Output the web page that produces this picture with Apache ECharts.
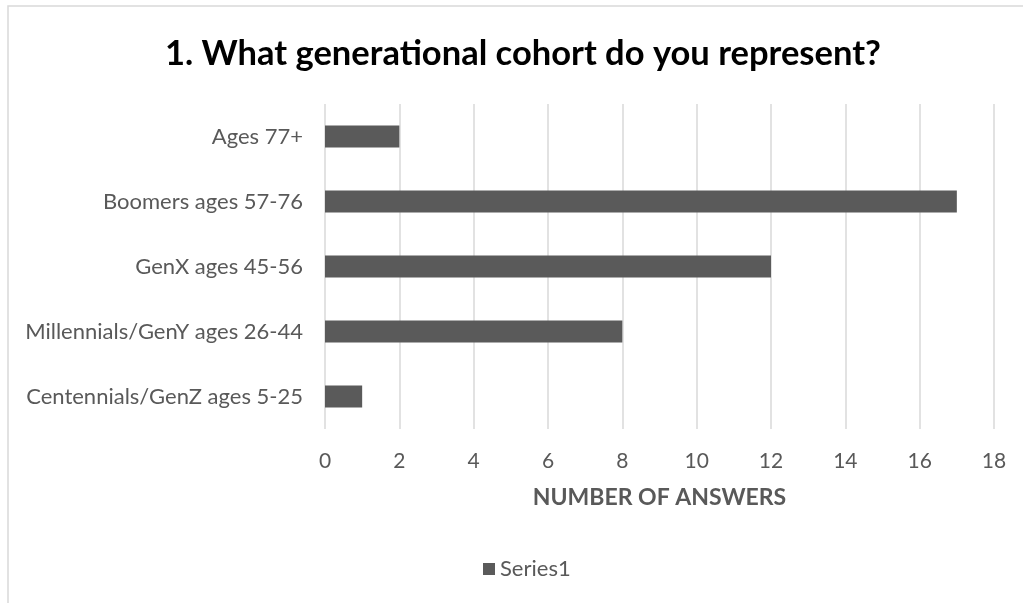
<!DOCTYPE html>
<html>
<head>
<meta charset="utf-8">
<script src="https://cdn.jsdelivr.net/npm/echarts@6/dist/echarts.min.js"></script>
<style>
  html, body { margin: 0; padding: 0; background: #ffffff; }
  #chart { width: 1023px; height: 603px; }
</style>
</head>
<body>
<div id="chart"></div>
<script>
// Survey question 1: respondents by generational cohort (top to bottom)
const categories = [
  'Ages 77+',
  'Boomers ages 57-76',
  'GenX ages 45-56',
  'Millennials/GenY ages 26-44',
  'Centennials/GenZ ages 5-25'
];
const answers = [2, 17, 12, 8, 1];
const xTicks = { min: 0, max: 18, interval: 2 };

const FONT = 'Lato, "Open Sans", sans-serif';
const TEXT_GREY = '#595959';

const chart = echarts.init(document.getElementById('chart'), null, { renderer: 'canvas' });

chart.setOption({
  animation: false,
  backgroundColor: '#ffffff',
  textStyle: { fontFamily: FONT },
  title: {
    text: '1. What generational cohort do you represent?',
    left: 160,
    top: 31,
    textStyle: { fontFamily: FONT, fontWeight: 'bold', fontSize: 34.5, color: '#000000' }
  },
  graphic: [{
    type: 'rect',
    shape: { x: 8, y: 6, width: 1030, height: 620 },
    style: { fill: 'none', stroke: '#d9d9d9', lineWidth: 1.5 },
    silent: true,
    z: -1
  }],
  grid: { left: 325, right: 29, top: 104, bottom: 174, containLabel: false },
  xAxis: {
    type: 'value',
    min: xTicks.min,
    max: xTicks.max,
    interval: xTicks.interval,
    axisLine: { show: false },
    axisTick: { show: false },
    splitLine: { show: true, lineStyle: { color: '#d9d9d9', width: 1.5 } },
    axisLabel: { color: TEXT_GREY, fontSize: 21, margin: 22, fontFamily: FONT },
    name: 'NUMBER OF ANSWERS',
    nameLocation: 'middle',
    nameGap: 57,
    nameTextStyle: { color: TEXT_GREY, fontSize: 23, fontWeight: 'bold', fontFamily: FONT }
  },
  yAxis: {
    type: 'category',
    data: categories,
    inverse: true,
    axisLine: { show: false },
    axisTick: { show: false },
    splitLine: { show: false },
    axisLabel: { color: TEXT_GREY, fontSize: 22, margin: 22, fontFamily: FONT }
  },
  legend: {
    bottom: 23,
    left: 483,
    icon: 'rect',
    itemWidth: 12,
    itemHeight: 12,
    itemGap: 10,
    itemTextGap: 5,
    padding: 0,
    textStyle: { color: TEXT_GREY, fontSize: 22, fontFamily: FONT },
    data: ['Series1']
  },
  series: [{
    name: 'Series1',
    type: 'bar',
    data: answers,
    barWidth: 22,
    itemStyle: { color: '#5a5a5a' }
  }]
});
</script>
</body>
</html>
